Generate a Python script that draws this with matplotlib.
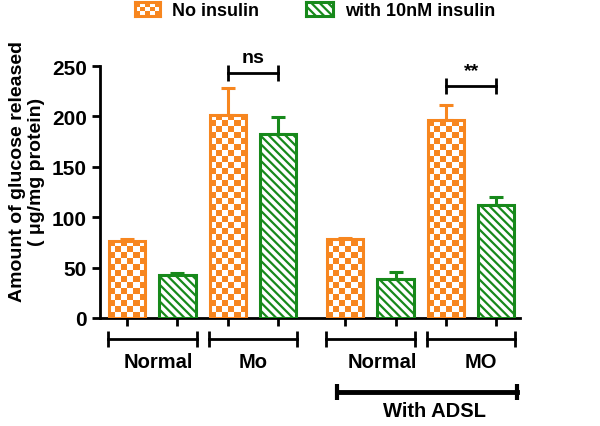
import numpy as np
import matplotlib
matplotlib.use("Agg")
import matplotlib.pyplot as plt
from matplotlib.transforms import blended_transform_factory

plt.rcParams["font.family"] = ["Liberation Sans", "DejaVu Sans"]
plt.rcParams["font.weight"] = "bold"
plt.rcParams["hatch.linewidth"] = 1.6

# data
positions = [0, 1, 2, 3, 4.33, 5.33, 6.33, 7.33]
means = [76, 43, 201, 183, 78, 39, 196, 112]
errors = [2, 2, 27, 16, 1, 7, 15, 8]
insulin = [False, True, False, True, False, True, False, True]

group_labels = ["Normal", "Mo", "Normal", "MO"]
group_centers = [0.5, 2.5, 4.83, 6.83]
label_offsets = [0.12, 0.0, 0.23, 0.19]

sig_pairs = [(2, 3), (6, 7)]
sig_text = ["ns", "**"]
sig_levels = [243, 230]

ORANGE = "#F7861F"
GREEN = "#17891B"
BAR_W = 0.72
CELL_X = 0.119  # ~6 px
CELL_Y = 5.95   # ~6 px


def checker(n_rows, n_cols):
    r, c = np.indices((n_rows, n_cols))
    img = np.ones((n_rows, n_cols, 3))
    on = (r + c) % 2 == 0
    img[on] = matplotlib.colors.to_rgb(ORANGE)
    return img


fig = plt.figure(figsize=(6, 4.27), dpi=100)
ax = fig.add_axes([0.1667, 0.253, 0.70, 0.590])

for x, m, e, ins in zip(positions, means, errors, insulin):
    col = GREEN if ins else ORANGE
    ax.errorbar(x, m, yerr=[[0], [e]], color=col, elinewidth=2.2,
                capsize=4.7, capthick=2.2, zorder=1)
    if ins:
        ax.bar(x, m, width=BAR_W, facecolor="white", edgecolor=col,
               linewidth=2.2, hatch="\\\\\\\\", zorder=3)
    else:
        bar = ax.bar(x, m, width=BAR_W, facecolor="none", edgecolor=col,
                     linewidth=2.2, zorder=3)[0]
        n_rows = int(np.ceil(m / CELL_Y))
        n_cols = int(np.ceil(BAR_W / CELL_X))
        im = ax.imshow(checker(n_rows, n_cols), origin="lower",
                       extent=(x - BAR_W / 2, x - BAR_W / 2 + n_cols * CELL_X,
                               0, n_rows * CELL_Y),
                       interpolation="nearest", aspect="auto", zorder=2)
        im.set_clip_path(bar)

ax.set_xlim(-0.536, 7.80)
ax.set_ylim(0, 250)
ax.set_yticks([0, 50, 100, 150, 200, 250])
ax.set_xticks(positions)
ax.set_xticklabels([])
ax.tick_params(axis="both", width=2, length=6, labelsize=15)
for side in ["top", "right"]:
    ax.spines[side].set_visible(False)
for side in ["left", "bottom"]:
    ax.spines[side].set_linewidth(2)
for lbl in ax.get_yticklabels():
    lbl.set_fontweight("bold")

# significance brackets
for (i, j), txt, lev in zip(sig_pairs, sig_text, sig_levels):
    ax.plot([positions[i], positions[j]], [lev, lev], color="black", lw=2,
            marker="|", markersize=11, mew=2, clip_on=False)
    ax.text((positions[i] + positions[j]) / 2, lev + 7, txt, ha="center",
            va="bottom", fontsize=14, fontweight="bold", clip_on=False)

# group brackets below the axis
tr = blended_transform_factory(ax.transData, ax.transAxes)
for lbl, c, off in zip(group_labels, group_centers, label_offsets):
    ax.plot([c - 0.88, c + 0.88], [-0.083, -0.083], color="black", lw=2,
            marker="|", markersize=11, mew=2, transform=tr, clip_on=False)
    ax.text(c + off, -0.171, lbl, ha="center", va="center", fontsize=14.5,
            fontweight="bold", transform=tr)

ax.plot([4.17, 7.74], [-0.294, -0.294], color="black", lw=3.5,
        marker="|", markersize=12, mew=3, transform=tr, clip_on=False)
ax.text(6.11, -0.369, "With ADSL", ha="center", va="center", fontsize=14.5,
        fontweight="bold", transform=tr)

fig.text(0.045, 1 - 172 / 427, "Amount of glucose released\n( \u03bcg/mg protein)",
         rotation=90, ha="center", va="center", multialignment="center",
         fontsize=14, fontweight="bold", linespacing=1.1)

# legend, drawn by hand to show the checker swatch
lax = fig.add_axes([135 / 600, 1 - 17 / 427, 25 / 600, 14 / 427])
lax.imshow(checker(3, 5), origin="lower", extent=(0, 1, 0, 1),
           interpolation="nearest", aspect="auto")
lax.set_xticks([])
lax.set_yticks([])
for s in lax.spines.values():
    s.set_color(ORANGE)
    s.set_linewidth(2.2)
fig.text(172 / 600, 1 - 11 / 427, "No insulin", ha="left", va="center",
         fontsize=13, fontweight="bold")

gax = fig.add_axes([306 / 600, 1 - 17 / 427, 27 / 600, 14 / 427])
gax.set_xlim(0, 1)
gax.set_ylim(0, 1)
gax.add_patch(plt.Rectangle((0, 0), 1, 1, facecolor="white", edgecolor=GREEN,
                            hatch="\\\\\\\\", linewidth=0))
gax.set_xticks([])
gax.set_yticks([])
for s in gax.spines.values():
    s.set_color(GREEN)
    s.set_linewidth(2.2)
fig.text(345 / 600, 1 - 11 / 427, "with 10nM insulin", ha="left", va="center",
         fontsize=13, fontweight="bold")

fig.savefig("out.png", dpi=100)
